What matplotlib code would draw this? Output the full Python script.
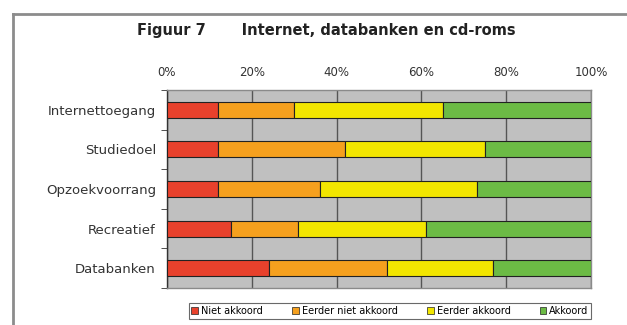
import numpy as np
import matplotlib
matplotlib.use("Agg")
from matplotlib import pyplot as plt
from matplotlib.lines import Line2D
from matplotlib.patches import Patch

categories = ['Internettoegang', 'Studiedoel', 'Opzoekvoorrang', 'Recreatief', 'Databanken']
series_names = ['Niet akkoord', 'Eerder niet akkoord', 'Eerder akkoord', 'Akkoord']
niet_akkoord = [12, 12, 12, 15, 24]
eerder_niet_akkoord = [18, 30, 24, 16, 28]
eerder_akkoord = [35, 33, 37, 30, 25]
akkoord = [35, 25, 27, 39, 23]
x_ticks = [0, 20, 40, 60, 80, 100]
x_ticklabels = ['0%', '20%', '40%', '60%', '80%', '100%']

colors = ['#e8412c', '#f5a01e', '#f2e600', '#6cbb45']

fig = plt.figure(figsize=(6.27, 3.25), dpi=100)
ax = fig.add_axes([167 / 627, 1 - 288 / 325, 424 / 627, 198 / 325])
ax.set_facecolor('#c0c0c0')

y = np.arange(len(categories))
left = np.zeros(len(categories))
for vals, col in zip([niet_akkoord, eerder_niet_akkoord, eerder_akkoord, akkoord], colors):
	ax.barh(y, vals, left=left, height=0.4, color=col, edgecolor='#222222', linewidth=0.8, zorder=3)
	left += np.array(vals)

ax.set_xlim(0, 100)
ax.set_ylim(len(categories) - 0.5, -0.5)
ax.xaxis.tick_top()
ax.set_xticks(x_ticks)
ax.set_xticklabels(x_ticklabels, fontsize=8.5, color='#333333')
ax.tick_params(axis='x', length=0, pad=8)
ax.set_yticks(y)
ax.set_yticklabels(categories, fontsize=9.5, color='#333333')
ax.set_yticks(np.arange(len(categories) + 1) - 0.5, minor=True)
ax.tick_params(axis='y', which='major', length=0, pad=8)
ax.tick_params(axis='y', which='minor', length=4, color='#333333')
ax.grid(axis='x', color='#555555', linewidth=1.0, zorder=1)
ax.set_axisbelow(True)
for s in ax.spines.values():
	s.set_color('#8a8a8a')
	s.set_linewidth(1.0)
ax.spines['left'].set_color('#333333')

# outer frame (cut off at right and bottom)
fig.add_artist(Line2D([13 / 627, 1], [1 - 14 / 325, 1 - 14 / 325], color='#8c8c8c', lw=2.0))
fig.add_artist(Line2D([13 / 627, 13 / 627], [1 - 14 / 325, 0], color='#8c8c8c', lw=2.0))

fig.text(326 / 627, 1 - 31 / 325, 'Figuur 7       Internet, databanken en cd-roms', ha='center', va='center',
		fontsize=10.5, fontweight='bold', color='#222222')

handles = [Patch(facecolor=c, edgecolor='#222222', linewidth=0.5) for c in colors]
leg = fig.legend(handles, series_names, loc='center', bbox_to_anchor=(390 / 627, 1 - 311 / 325), ncol=4,
		fontsize=7, frameon=True, fancybox=False, handlelength=0.7, handleheight=0.7,
		handletextpad=0.3, columnspacing=3.0, borderpad=0.3)
leg.get_frame().set_edgecolor('#444444')
leg.get_frame().set_linewidth(0.8)

fig.savefig('out.png', dpi=100)
